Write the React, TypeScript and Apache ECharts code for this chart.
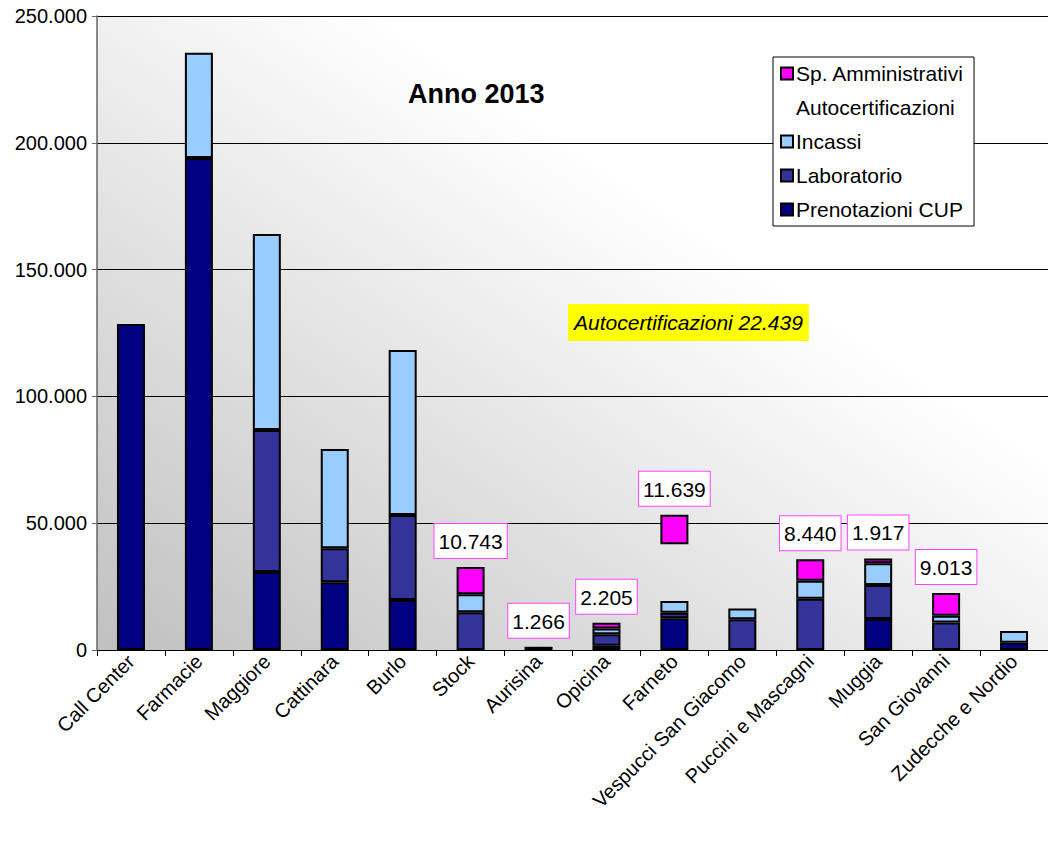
import React, { useEffect, useRef } from "react";
import * as echarts from "echarts";

const categories = [
  "Call Center",
  "Farmacie",
  "Maggiore",
  "Cattinara",
  "Burlo",
  "Stock",
  "Aurisina",
  "Opicina",
  "Farneto",
  "Vespucci San Giacomo",
  "Puccini e Mascagni",
  "Muggia",
  "San Giovanni",
  "Zudecche e Nordio",
];
const prenotazioniCUP = [128500, 194000, 30800, 26700, 19700, 0, 0, 1700, 12500, 0, 0, 12200, 0, 2900];
const laboratorio = [0, 0, 56000, 13400, 33500, 14900, 0, 4500, 2200, 12100, 20200, 13400, 10800, 0];
const incassi = [0, 41500, 77200, 39200, 65100, 7100, 0, 2300, 4600, 4300, 7100, 8600, 2700, 4600];
const autocertificazioni = [0, 0, 0, 0, 0, 0, 0, 0, 22439, 0, 0, 0, 0, 0];
const spAmministrativi = [0, 0, 0, 0, 0, 10743, 1266, 2205, 11639, 0, 8440, 1917, 9013, 0];
const yTicks = [0, 50000, 100000, 150000, 200000, 250000];
const annotationText = "Autocertificazioni 22.439";
const titleText = "Anno 2013";

const FONT = "Arial, 'Liberation Sans', sans-serif";

function fmt(n: number): string {
  return String(Math.round(n)).replace(/\B(?=(\d{3})+(?!\d))/g, ".");
}

function toData(arr: number[], withLabel = false) {
  return arr.map((v) => {
    if (!v) return { value: null as any };
    return withLabel ? { value: v, label: { show: true } } : { value: v };
  });
}

export default function App() {
  const ref = useRef<HTMLDivElement>(null);
  useEffect(() => {
    if (!ref.current) return;
    const chart = echarts.init(ref.current, null, { renderer: "svg" });
    const border = { borderColor: "#000", borderWidth: 2 };
    const barWidth = 28;
    const option: any = {
      animation: false,
      backgroundColor: "#fff",
      textStyle: { fontFamily: FONT },
      title: [
        {
          text: titleText,
          left: 403,
          top: 75,
          textStyle: { fontFamily: FONT, fontSize: 27, fontWeight: "bold", color: "#000" },
        },
        {
          text: annotationText,
          left: 568,
          top: 304,
          backgroundColor: "#ffff00",
          padding: [8, 6, 8, 6],
          textStyle: { fontFamily: FONT, fontSize: 21, fontStyle: "italic", fontWeight: "normal", color: "#000" },
        },
      ],
      legend: {
        orient: "vertical",
        left: 773,
        top: 57,
        backgroundColor: "#fff",
        borderColor: "#000",
        borderWidth: 1,
        padding: [6, 10, 6, 7],
        itemGap: 13,
        itemWidth: 12,
        itemHeight: 12,
        icon: "rect",
        itemStyle: { borderColor: "#000", borderWidth: 2 },
        textStyle: { fontFamily: FONT, fontSize: 21, lineHeight: 21, color: "#000", padding: [0, 0, 0, -2] },
        data: [
          { name: "Sp. Amministrativi" },
          { name: "Autocertificazioni", itemStyle: { color: "transparent", borderWidth: 0, opacity: 0 } },
          { name: "Incassi" },
          { name: "Laboratorio" },
          { name: "Prenotazioni CUP" },
        ],
      },
      grid: {
        left: 97,
        right: 0,
        top: 16,
        bottom: 194,
        show: true,
        borderWidth: 0,
        backgroundColor: new echarts.graphic.LinearGradient(0, 1, 1, 0, [
          { offset: 0, color: "#c0c0c0" },
          { offset: 0.65, color: "#ffffff" },
          { offset: 1, color: "#ffffff" },
        ]),
      },
      xAxis: {
        type: "category",
        data: categories,
        axisLine: { lineStyle: { color: "#000", width: 1 } },
        axisTick: { show: true, length: 6, lineStyle: { color: "#000" } },
        axisLabel: {
          interval: 0,
          rotate: 45,
          fontSize: 20,
          color: "#000",
          fontFamily: FONT,
          margin: 8,
        },
      },
      yAxis: {
        type: "value",
        min: yTicks[0],
        max: yTicks[yTicks.length - 1],
        interval: 50000,
        axisLine: { show: true, lineStyle: { color: "#666", width: 1.5 } },
        axisTick: { show: true, length: 5, lineStyle: { color: "#666" } },
        splitLine: { show: true, lineStyle: { color: "#000", width: 1 } },
        axisLabel: {
          fontSize: 20,
          color: "#000",
          fontFamily: FONT,
          margin: 10,
          formatter: (v: number) => fmt(v),
        },
      },
      series: [
        {
          name: "Prenotazioni CUP",
          type: "bar",
          stack: "s",
          barWidth,
          data: toData(prenotazioniCUP),
          itemStyle: { color: "#000080", ...border },
        },
        {
          name: "Laboratorio",
          type: "bar",
          stack: "s",
          barWidth,
          data: toData(laboratorio),
          itemStyle: { color: "#333399", ...border },
        },
        {
          name: "Incassi",
          type: "bar",
          stack: "s",
          barWidth,
          data: toData(incassi),
          itemStyle: { color: "#99ccff", ...border },
        },
        {
          name: "Autocertificazioni",
          type: "bar",
          stack: "s",
          barWidth,
          data: toData(autocertificazioni),
          itemStyle: { color: "transparent", borderWidth: 0 },
        },
        {
          name: "Sp. Amministrativi",
          type: "bar",
          stack: "s",
          barWidth,
          data: toData(spAmministrativi, true),
          itemStyle: { color: "#ff00ff", ...border },
          label: {
            show: false,
            position: "top",
            distance: 9,
            formatter: (p: any) => fmt(p.value),
            fontFamily: FONT,
            fontSize: 21,
            color: "#000",
            backgroundColor: "#fff",
            borderColor: "#ff44ff",
            borderWidth: 1,
            padding: [7, 4, 6, 4],
          },
        },
      ],
    };
    chart.setOption(option);
    return () => chart.dispose();
  }, []);
  return (
    <div
      ref={ref}
      style={{ position: "fixed", left: 0, top: 0, width: 1048, height: 844 }}
    />
  );
}
